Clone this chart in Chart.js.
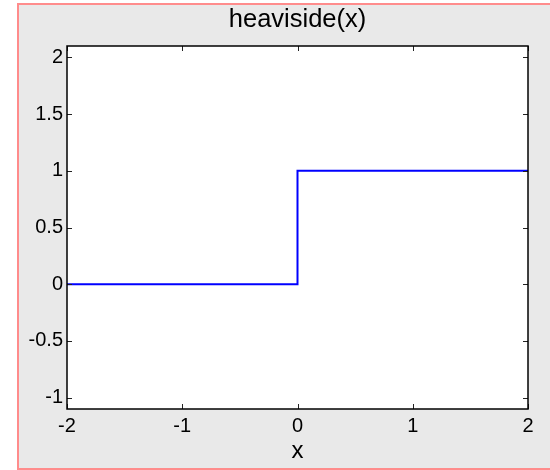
<!DOCTYPE html>
<html>
<head>
<meta charset="utf-8">
<script src="https://cdn.jsdelivr.net/npm/chart.js@4"></script>
<style>
  body { margin: 0; background: #fff; }
  #frame {
    position: absolute; left: 17px; top: 3px; width: 533px; height: 463px;
    background: #e9e9e9;
    border-left: 2px solid #ff8c8c; border-top: 2px solid #ff8c8c; border-bottom: 2px solid #ff8c8c;
  }
  #plot { position: absolute; left: 0; top: 0; }
</style>
</head>
<body>
<div id="frame"></div>
<canvas id="plot" width="550" height="470"></canvas>
<script>
// step data
const xValues = [-2, 0, 0, 2];
const yValues = [0, 0, 1, 1];
const xTicks = [-2, -1, 0, 1, 2];
const yTicks = [-1, -0.5, 0, 0.5, 1, 1.5, 2];

const fontFamily = '"Liberation Sans", Arial, sans-serif';

// white axes box, black frame and inward tick marks
const axesBox = {
  id: 'axesBox',
  beforeDraw(chart) {
    const { ctx, chartArea: a } = chart;
    ctx.save();
    ctx.fillStyle = '#fff';
    ctx.fillRect(a.left, a.top, a.right - a.left, a.bottom - a.top);
    ctx.restore();
  },
  afterDraw(chart) {
    const { ctx, chartArea: a, scales } = chart;
    const len = 5;
    ctx.save();
    ctx.strokeStyle = '#222';
    ctx.lineWidth = 1;
    ctx.beginPath();
    xTicks.forEach(v => {
      const px = Math.round(scales.x.getPixelForValue(v)) + 0.5;
      ctx.moveTo(px, a.bottom); ctx.lineTo(px, a.bottom - len);
      ctx.moveTo(px, a.top); ctx.lineTo(px, a.top + len);
    });
    yTicks.forEach(v => {
      const py = Math.round(scales.y.getPixelForValue(v)) + 0.5;
      ctx.moveTo(a.left, py); ctx.lineTo(a.left + len, py);
      ctx.moveTo(a.right, py); ctx.lineTo(a.right - len, py);
    });
    ctx.stroke();
    ctx.strokeStyle = '#000';
    ctx.lineWidth = 1.5;
    ctx.strokeRect(a.left, a.top, a.right - a.left, a.bottom - a.top);
    ctx.restore();
  }
};

new Chart(document.getElementById('plot'), {
  type: 'scatter',
  data: {
    datasets: [{
      data: xValues.map((x, i) => ({ x: x, y: yValues[i] })),
      showLine: true,
      borderColor: '#0000ff',
      borderWidth: 2,
      pointRadius: 0,
      tension: 0
    }]
  },
  options: {
    responsive: false,
    animation: false,
    layout: { padding: { left: 0, right: 22, top: 0, bottom: 0 } },
    plugins: {
      legend: { display: false },
      tooltip: { enabled: false },
      title: {
        display: true,
        fullSize: false,
        text: 'heaviside(x)',
        color: '#000',
        font: { family: fontFamily, size: 25.5, weight: 'normal', lineHeight: 1.2 },
        padding: { top: 5, bottom: 10.4 }
      }
    },
    scales: {
      x: {
        type: 'linear',
        min: -2,
        max: 2,
        afterBuildTicks: s => { s.ticks = xTicks.map(v => ({ value: v })); },
        afterFit: s => { s.height = 61; },
        grid: { display: false, drawTicks: false, tickLength: 0 },
        border: { display: false },
        ticks: {
          color: '#000',
          padding: 5,
          maxRotation: 0,
          font: { family: fontFamily, size: 20 },
          callback: v => String(v)
        },
        title: {
          display: true,
          text: 'x',
          color: '#000',
          font: { family: fontFamily, size: 24, lineHeight: 1.2 },
          padding: { top: 0, bottom: 4 }
        }
      },
      y: {
        type: 'linear',
        min: -1.1,
        max: 2.1,
        afterBuildTicks: s => { s.ticks = yTicks.map(v => ({ value: v })); },
        afterFit: s => { s.width = 67; },
        grid: { display: false, drawTicks: false, tickLength: 0 },
        border: { display: false },
        ticks: {
          color: '#000',
          padding: 4,
          font: { family: fontFamily, size: 20 },
          callback: v => String(v)
        }
      }
    }
  },
  plugins: [axesBox]
});
</script>
</body>
</html>
